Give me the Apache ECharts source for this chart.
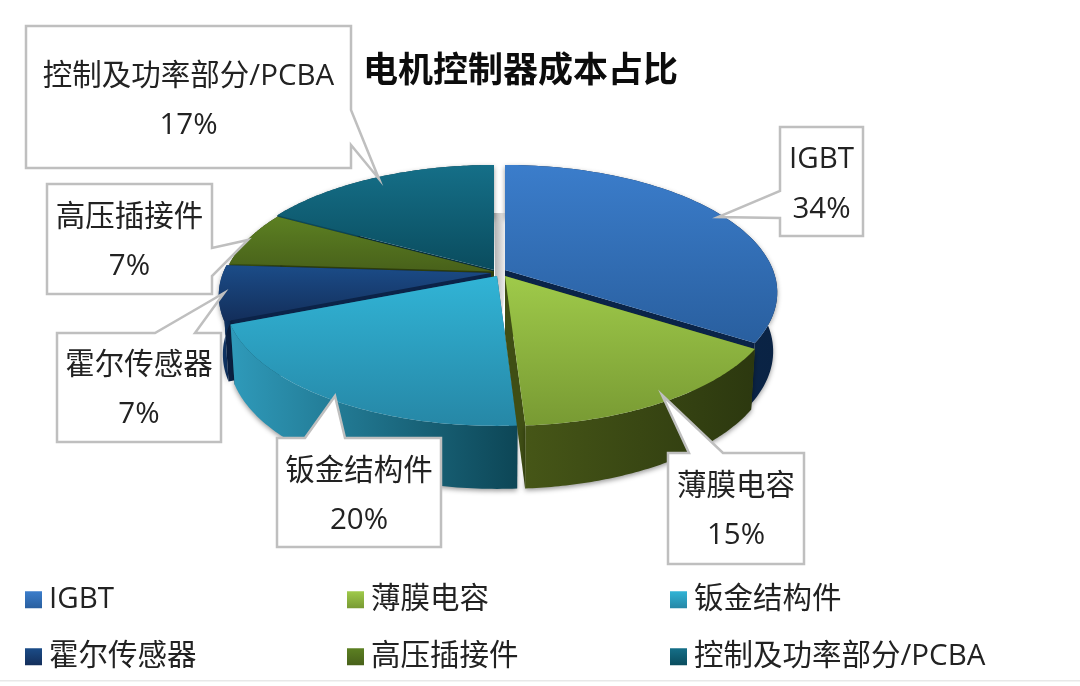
<!DOCTYPE html>
<html>
<head>
<meta charset="utf-8">
<style>html,body{margin:0;padding:0;background:#fff}#c{width:1080px;height:686px}</style>
<script src="https://cdn.jsdelivr.net/npm/echarts@6/dist/echarts.min.js"></script>
</head>
<body>
<div id="c"></div>
<script>
const titleText = '电机控制器成本占比';
const names = ['IGBT', '薄膜电容', '钣金结构件', '霍尔传感器', '高压插接件', '控制及功率部分/PCBA'];
const values = [34, 15, 20, 7, 7, 17];
const topColors = [['#3B7DCB','#295F9F'],['#9FCA4A','#789A33'],['#31B4D6','#2687A6'],['#1B4C88','#132E5A'],['#5C8022','#48611A'],['#156F88','#0A4C5E']];
const wallColors = [['#0C2A52','#0A2344'],['#465617','#2C380F'],['#2F9ABA','#0D4656'],['#123B70','#0C2A52'],['#3A5212','#2C3E0E'],['#0C4A5C','#083646']];
const faceColors = ['#0A2448','#3F4E14','#16566A','#0B2348','#2C3C0C','#07303E'];
// apex of each exploded slice on the canvas
const apexes = [[505,270],[505,276],[497,276],[491,273],[494,271.5],[494,270]];
// paint order, back to front
const paintOrder = [5,4,3,0,2,1];
const view = {a:268, b:123.5, p:0.176, shrink:0.985, hBase:58, hFront:5};
const callouts = [
  {box:[780,127,863,236], tail:[[780,191],[718,217],[780,218]], y:[160,210]},
  {box:[668,453,804,564], tail:[[689,453],[662,395],[723,453]], y:[487,536]},
  {box:[277,438,441,547], tail:[[305,438],[335,396],[345,438]], y:[472,521]},
  {box:[57,333,221,442], tail:[[155,333],[224,293],[195,333]], y:[366,415]},
  {box:[47,184,212,294], tail:[[212,248],[248,240],[212,276]], y:[218,267]},
  {box:[26,26,351,168], tail:[[351,110],[379,179],[351,145]], y:[77,126]}
];
const legendCells = [[25,585],[347,585],[670,585],[25,642],[347,642],[670,642]];
const fontFamily = '"Open Sans","Noto Sans CJK SC","Noto Sans",sans-serif';

const total = values.reduce((s,v)=>s+v,0);
const angleAt = i => values.slice(0,i).reduce((s,v)=>s+v,0)/total*Math.PI*2;

function project(i,t){
  const u=Math.sin(t), v=-Math.cos(t), w=1-view.p*v, A=apexes[i];
  return {x:A[0]+view.a*u/w, y:A[1]+view.b*v/w, v:v};
}
function lower(i,q){
  const A=apexes[i];
  return [A[0]+(q.x-A[0])*view.shrink, q.y+view.hBase+view.hFront*q.v];
}
function vgrad(c){return new echarts.graphic.LinearGradient(0,0,0,1,[{offset:0,color:c[0]},{offset:1,color:c[1]}]);}
function hgrad(c){return new echarts.graphic.LinearGradient(0,0,1,0,[{offset:0,color:c[0]},{offset:1,color:c[1]}]);}

function renderSlice(i){
  return function(params, api){
    const start=angleAt(i), sweep=api.value(0)/total*Math.PI*2, N=80;
    const arc=[];
    for(let k=0;k<=N;k++){arc.push(project(i,start+sweep*k/N));}
    const A=apexes[i];
    const apexLow=[A[0],A[1]+view.hBase];
    const arcTop=arc.map(q=>[q.x,q.y]);
    const arcLow=arc.map(q=>lower(i,q));
    const shadow={shadowBlur:5,shadowColor:'rgba(0,0,0,0.4)',shadowOffsetY:2};
    const wall=arcTop.concat(arcLow.slice().reverse());
    const first=arcTop[0], last=arcTop[N];
    return {type:'group',children:[
      {type:'polygon',shape:{points:[[A[0],A[1]],first,arcLow[0],apexLow]},style:{fill:faceColors[i]}},
      {type:'polygon',shape:{points:[[A[0],A[1]],last,arcLow[N],apexLow]},style:{fill:faceColors[i]}},
      {type:'polygon',shape:{points:wall},style:Object.assign({fill:hgrad(wallColors[i])},shadow)},
      {type:'polygon',shape:{points:[[A[0],A[1]]].concat(arcTop)},style:{fill:vgrad(topColors[i])}}
    ]};
  };
}

function renderCallout(params, api){
  const i=params.dataIndex, c=callouts[i], b=c.box;
  const t=c.tail;
  let pts;
  if(t[0][1]===b[1]){ pts=[[b[0],b[1]],t[0],t[1],t[2],[b[2],b[1]],[b[2],b[3]],[b[0],b[3]]]; }
  else if(t[0][0]===b[2]){ pts=[[b[0],b[1]],[b[2],b[1]],t[0],t[1],t[2],[b[2],b[3]],[b[0],b[3]]]; }
  else { pts=[[b[0],b[1]],[b[2],b[1]],[b[2],b[3]],[b[0],b[3]],t[2],t[1],t[0]]; }
  const cx=(b[0]+b[2])/2;
  const txt=(s,y)=>({type:'text',style:{text:s,x:cx,y:y,textAlign:'center',textVerticalAlign:'middle',fill:'#222',fontSize:29.5,fontFamily:fontFamily}});
  return {type:'group',children:[
    {type:'polygon',shape:{points:pts},style:{fill:'#fff',stroke:'#BFBFBF',lineWidth:2.5,lineJoin:'miter'}},
    txt(names[i],c.y[0]),
    txt(Math.round(api.value(0))+'%',c.y[1])
  ]};
}

const series = paintOrder.map((i,k)=>({
  type:'custom',name:names[i],coordinateSystem:'none',z:2+k,silent:true,
  itemStyle:{color:vgrad(topColors[i])},
  renderItem:renderSlice(i),data:[values[i]]
}));
series.push({type:'custom',name:'callouts',coordinateSystem:'none',z:20,silent:true,renderItem:renderCallout,data:values.slice()});

const chart=echarts.init(document.getElementById('c'),null,{renderer:'canvas'});
chart.setOption({
  animation:false,
  backgroundColor:'#fff',
  title:{text:titleText,left:363,top:55,padding:0,textStyle:{fontSize:35,fontWeight:'bold',color:'#0c0c0c',fontFamily:fontFamily}},
  legend:names.map((n,i)=>({
    data:[n],left:legendCells[i][0],top:legendCells[i][1],padding:0,icon:'rect',itemWidth:17,itemHeight:17,
    selectedMode:false,textStyle:{fontSize:29.5,color:'#222',fontFamily:fontFamily,padding:[0,0,0,2]}
  })),
  graphic:[
    {type:'rect',shape:{x:0,y:680,width:1080,height:1.5},style:{fill:'#E8E8E8'},silent:true},
    {type:'polygon',shape:{points:[[494,213],[505,213],[505,290],[501,325],[499,325],[495,275]]},
     style:{fill:new echarts.graphic.LinearGradient(0,0,1,0,[{offset:0,color:'#AFAFAF'},{offset:1,color:'#EDEDED'}])},silent:true}
  ],
  series:series
});
</script>
</body>
</html>
